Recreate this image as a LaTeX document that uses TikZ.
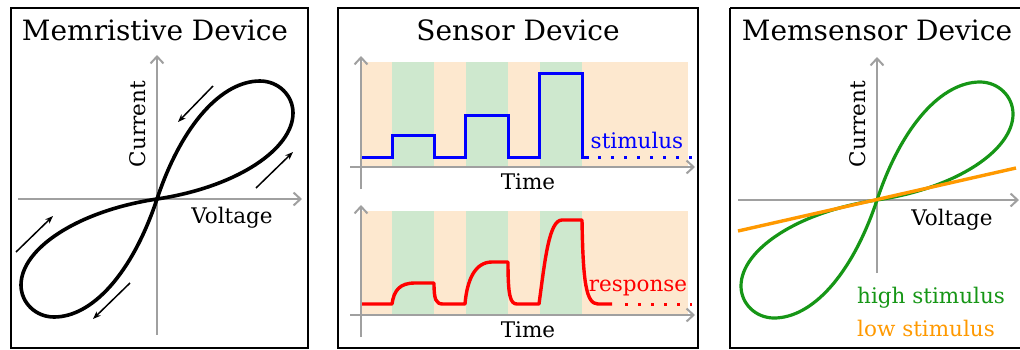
\documentclass[tikz,border=0pt]{standalone}
\usepackage{fontspec}
\setmainfont{DejaVu Serif}
\usetikzlibrary{arrows.meta}
\definecolor{axgray}{RGB}{160,160,160}
\definecolor{peach}{RGB}{253,232,207}
\definecolor{mint}{RGB}{206,232,206}
\definecolor{loopgreen}{RGB}{22,150,22}
\definecolor{lineorange}{RGB}{255,153,0}
\tikzset{
  panel/.style={draw=black, line width=2pt},
  axis/.style={draw=axgray, line width=2pt, -{Straight Barb[length=7pt,width=13pt]}},
  title/.style={font=\fontsize{28}{28}\selectfont, anchor=base, inner sep=0pt},
  lab/.style={font=\fontsize{21.5}{21.5}\selectfont, inner sep=0pt},
  dirarrow/.style={draw=black, line width=1.5pt, -{Stealth[length=8pt,width=6pt]}},
  loopline/.style={line width=3.6pt, line join=round},
  sig/.style={line width=3pt, line join=miter},
  dots/.style={line width=3pt, dash pattern=on 3pt off 10pt},
}
\begin{document}
\begin{tikzpicture}[x=1pt,y=-1pt]
\useasboundingbox (0,0) rectangle (1020,349);
% panels
\draw[panel] (11,8) rectangle (308,347.5);
\draw[panel] (338,8) rectangle (698,347.5);
\draw[panel] (730,8) -- (1021,8);
\draw[panel] (730,8) -- (730,347.5) -- (1021,347.5);

% ---------- Panel 1 ----------
\node[title] (t1) at (155,40) {Memristive Device};
\coordinate (o1) at (157,199);
\coordinate (v1b) at (157,335);
\coordinate (v1t) at (157,55);
\coordinate (h1l) at (18,199);
\coordinate (h1r) at (302,199);
\draw[axis] (v1b) -- (v1t);
\draw[axis] (h1l) -- (h1r);
\node[lab, rotate=90] (cur1) at (138,124) {Current};
\node[lab] (vol1) at (232,218) {Voltage};
\begin{scope}[shift={(o1)}, y=1pt]
\draw[loopline, black] (0,0) .. controls (25,75) and (65,118) .. (103,118)
  .. controls (121,118) and (136,104) .. (136,86)
  .. controls (136,50) and (80,12) .. (0,0)
  .. controls (-80,-12) and (-136,-50) .. (-136,-86)
  .. controls (-136,-104) and (-121,-118) .. (-103,-118)
  .. controls (-65,-118) and (-25,-75) .. (0,0);
\end{scope}
\coordinate (a1s) at (213,86);  \coordinate (a1e) at (178,122);
\coordinate (a2s) at (256,188); \coordinate (a2e) at (293,152);
\coordinate (a3s) at (16,252);  \coordinate (a3e) at (53,216);
\coordinate (a4s) at (130,283); \coordinate (a4e) at (93,319);
\draw[dirarrow] (a1s) -- (a1e);
\draw[dirarrow] (a2s) -- (a2e);
\draw[dirarrow] (a3s) -- (a3e);
\draw[dirarrow] (a4s) -- (a4e);

% ---------- Panel 2 ----------
\node[title] (t2) at (518,40) {Sensor Device};
% upper bands
\fill[peach] (362,62) rectangle (392,167);
\fill[mint]  (392,62) rectangle (434,167);
\fill[peach] (434,62) rectangle (466,167);
\fill[mint]  (466,62) rectangle (508,167);
\fill[peach] (508,62) rectangle (540,167);
\fill[mint]  (540,62) rectangle (582,167);
\fill[peach] (582,62) rectangle (688,167);
% lower bands
\fill[peach] (362,211) rectangle (392,315);
\fill[mint]  (392,211) rectangle (434,315);
\fill[peach] (434,211) rectangle (466,315);
\fill[mint]  (466,211) rectangle (508,315);
\fill[peach] (508,211) rectangle (540,315);
\fill[mint]  (540,211) rectangle (582,315);
\fill[peach] (582,211) rectangle (688,315);
% axes
\coordinate (v2b) at (361,189); \coordinate (v2t) at (361,56);
\coordinate (h2l) at (350,167); \coordinate (h2r) at (695,167);
\coordinate (v3b) at (361,337); \coordinate (v3t) at (361,205);
\coordinate (h3l) at (350,315); \coordinate (h3r) at (695,315);
\draw[axis] (v2b) -- (v2t);
\draw[axis] (h2l) -- (h2r);
\draw[axis] (v3b) -- (v3t);
\draw[axis] (h3l) -- (h3r);
% stimulus
\draw[sig, blue] (362,157) -- (392,157) -- (392,135) -- (434,135) -- (434,157)
  -- (465,157) -- (465,115) -- (508,115) -- (508,157) -- (539,157) -- (539,73)
  -- (582,73) -- (582,157) -- (589,157);
\coordinate (bd1) at (598,157); \coordinate (bd2) at (692,157);
\draw[dots, blue] (bd1) -- (bd2);
\node[lab, text=blue] (stim) at (637,140) {stimulus};
\node[lab] (time1) at (528,182) {Time};
% response
\draw[sig, red, line width=3.4pt, line join=round] (362,304) -- (392,304)
  .. controls (394,290) and (400,283) .. (415,283) -- (434,283)
  .. controls (434,300) and (436,304) .. (443,304) -- (465,304)
  .. controls (467,280) and (475,262) .. (492,262) -- (508,262)
  .. controls (508,295) and (510,304) .. (517,304) -- (539,304)
  .. controls (545,260) and (549,220) .. (562,220) -- (582,220)
  .. controls (583,282) and (586,304) .. (598,304) -- (612,304);
\coordinate (rd1) at (625,304); \coordinate (rd2) at (692,304);
\draw[dots, red] (rd1) -- (rd2);
\node[lab, text=red] (resp) at (638,288) {response};
\node[lab] (time2) at (528,330) {Time};

% ---------- Panel 3 ----------
\node[title] (t3) at (877,40) {Memsensor Device};
\coordinate (o3) at (877,200);
\coordinate (v4b) at (877,273); \coordinate (v4t) at (877,57);
\coordinate (h4l) at (738,200); \coordinate (h4r) at (1019,200);
\draw[axis] (v4b) -- (v4t);
\draw[axis] (h4l) -- (h4r);
\node[lab, rotate=90] (cur3) at (858,124) {Current};
\node[lab] (vol3) at (952,220) {Voltage};
\begin{scope}[shift={(o3)}, y=1pt]
\draw[loopline, loopgreen, line width=3.2pt] (0,0) .. controls (25,75) and (65,118) .. (103,118)
  .. controls (121,118) and (136,104) .. (136,86)
  .. controls (136,50) and (80,12) .. (0,0)
  .. controls (-80,-12) and (-136,-50) .. (-136,-86)
  .. controls (-136,-104) and (-121,-118) .. (-103,-118)
  .. controls (-65,-118) and (-25,-75) .. (0,0);
\end{scope}
\coordinate (ol) at (738,231); \coordinate (or) at (1016,168);
\draw[lineorange, line width=3.4pt] (ol) -- (or);
\node[lab, text=loopgreen, anchor=west] (hs) at (857,298) {high stimulus};
\node[lab, text=lineorange, anchor=west] (ls) at (857,328) {low stimulus};
\end{tikzpicture}
\end{document}
